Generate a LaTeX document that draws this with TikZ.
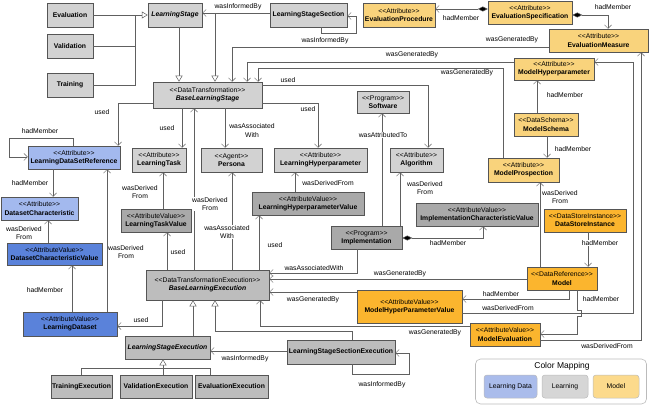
\documentclass[tikz,border=0pt]{standalone}
\usepackage{fontspec}
\setmainfont{Liberation Sans}[Ligatures=TeXOff]
\usetikzlibrary{arrows.meta}
\definecolor{lgray}{HTML}{D2D2D2}
\definecolor{mgray}{HTML}{BDBDBD}
\definecolor{dgray}{HTML}{A9A9A9}
\definecolor{lblue}{HTML}{A3B9EE}
\definecolor{dblue}{HTML}{5A82DA}
\definecolor{lorange}{HTML}{F9D37C}
\definecolor{dorange}{HTML}{FBB52E}
\definecolor{bordc}{HTML}{555555}
\definecolor{linec}{HTML}{606060}
\definecolor{legb}{HTML}{BBBBBB}
\definecolor{legblue}{HTML}{AABCEB}
\definecolor{leggray}{HTML}{D6D6D6}
\definecolor{legorange}{HTML}{FCDA8C}
\newcommand{\fsz}{\fontsize{6.8}{8.2}\selectfont}
\newcommand{\stx}[1]{<\kern0pt<#1>\kern0pt>}
\begin{document}
\begin{tikzpicture}[x=1pt,y=-1pt,
  box/.style={draw=bordc, line width=0.5pt, inner sep=0pt, align=center, font=\fsz},
  sz/.style 2 args={minimum width=#1pt, minimum height=#2pt},
  lg/.style={box, fill=lgray},
  mg/.style={box, fill=mgray},
  dg/.style={box, fill=dgray},
  lb/.style={box, fill=lblue},
  db/.style={box, fill=dblue},
  lo/.style={box, fill=lorange},
  do/.style={box, fill=dorange},
  conn/.style={draw=linec, line width=0.5pt},
  asc/.style={conn, -{Straight Barb[length=3.5pt,width=7pt]}},
  gen/.style={conn, -{Triangle[open,length=6pt,width=7pt,fill=white]}},
  comp/.style={conn, {Diamond[length=10pt,width=5pt,fill=black]}-{Straight Barb[length=3.5pt,width=7pt]}},
  lbl/.style={font=\fsz, fill=white, inner sep=0.5pt, align=center}
]
\fill[white] (0,0) rectangle (650,406);
\useasboundingbox (0,0) rectangle (650,406);

% ---------- nodes ----------
\node[lg,sz={46}{24}] (eval) at (70,15) {\textbf{Evaluation}};
\node[lg,sz={46}{24}] (valid) at (70,46) {\textbf{Validation}};
\node[lg,sz={46}{24}] (train) at (70,85) {\textbf{Training}};
\node[lg,sz={54}{24}] (ls) at (175,15) {\textbf{\textit{LearningStage}}};
\node[lg,sz={77}{24}] (lss) at (308.5,15) {\textbf{LearningStageSection}};
\node[lo,sz={72}{24}] (evproc) at (399,15) {\stx{Attribute}\\\textbf{EvaluationProcedure}};
\node[lo,sz={84}{23}] (evspec) at (530,12.5) {\stx{Attribute}\\\textbf{EvaluationSpecification}};
\node[lo,sz={99}{23}] (evmeas) at (598.5,40.5) {\stx{Attribute}\\\textbf{EvaluationMeasure}};
\node[lo,sz={80}{22}] (mhp) at (554,69) {\stx{Attribute}\\\textbf{ModelHyperparameter}};
\node[lo,sz={64}{23}] (mschema) at (546,124.5) {\stx{DataSchema}\\\textbf{ModelSchema}};
\node[lo,sz={71}{24}] (mprosp) at (523.5,170) {\stx{Attribute}\\\textbf{ModelProspection}};
\node[do,sz={82}{23}] (dsi) at (585,220.5) {\stx{DataStoreInstance}\\\textbf{DataStoreInstance}};
\node[do,sz={70}{23}] (model) at (562,278.5) {\stx{DataReference}\\\textbf{Model}};
\node[do,sz={105}{33}] (mhpv) at (409.5,306.5) {\stx{AttributeValue}\\\textbf{ModelHyperParameterValue}};
\node[do,sz={70}{23}] (meval) at (505,334.5) {\stx{AttributeValue}\\\textbf{ModelEvaluation}};

\node[lg,sz={109}{26}] (bls) at (207.5,95) {\stx{DataTransformation}\\\textbf{\textit{BaseLearningStage}}};
\node[lg,sz={52}{22}] (software) at (383,102) {\stx{Program}\\\textbf{Software}};
\node[lb,sz={92}{23}] (ldsr) at (74,157.5) {\stx{Attribute}\\\textbf{LearningDataSetReference}};
\node[lg,sz={54}{24}] (ltask) at (159,160) {\stx{Attribute}\\\textbf{LearningTask}};
\node[lg,sz={61}{24}] (persona) at (231.5,160) {\stx{Agent}\\\textbf{Persona}};
\node[lg,sz={93}{24}] (lhp) at (320.5,160) {\stx{Attribute}\\\textbf{LearningHyperparameter}};
\node[lg,sz={53}{24}] (algo) at (416.5,160) {\stx{Attribute}\\\textbf{Algorithm}};
\node[lb,sz={77}{23}] (dchar) at (39.5,208.5) {\stx{Attribute}\\\textbf{DatasetCharacteristic}};
\node[dg,sz={70}{23}] (ltv) at (156,220.5) {\stx{AttributeValue}\\\textbf{LearningTaskValue}};
\node[dg,sz={112}{23}] (lhpv) at (308,203.5) {\stx{AttributeValue}\\\textbf{LearningHyperparameterValue}};
\node[dg,sz={122}{23}] (icv) at (477,214.5) {\stx{AttributeValue}\\\textbf{ImplementationCharacteristicValue}};
\node[db,sz={95}{22}] (dcv) at (54.5,254) {\stx{AttributeValue}\\\textbf{DatasetCharacteristicValue}};
\node[dg,sz={71}{23}] (impl) at (366.5,237.5) {\stx{Program}\\\textbf{Implementation}};
\node[mg,sz={123}{30}] (ble) at (207.5,285) {\stx{DataTransformationExecution}\\\textbf{\textit{BaseLearningExecution}}};
\node[db,sz={94}{24}] (ld) at (70,324) {\stx{AttributeValue}\\\textbf{LearningDataset}};
\node[mg,sz={85}{23}] (lse) at (167.5,347.5) {\textbf{\textit{LearningStageExecution}}};
\node[mg,sz={108}{24}] (lsse) at (341,352) {\textbf{LearningStageSectionExecution}};
\node[mg,sz={61}{23}] (te) at (81.5,386.5) {\textbf{TrainingExecution}};
\node[mg,sz={72}{23}] (ve) at (156,386.5) {\textbf{ValidationExecution}};
\node[mg,sz={73}{23}] (ee) at (231.5,386.5) {\textbf{EvaluationExecution}};

% ---------- legend ----------
\node[draw=legb, line width=0.6pt, rounded corners=5pt, fill=white, sz={171}{45}] (legend) at (561,381.5) {};
\node[font=\fontsize{8.5}{10}\selectfont, inner sep=0pt] (legt) at (562,366) {Color Mapping};
\node[box, draw=legb, fill=legblue, rounded corners=3pt, sz={53}{23}] (leg1) at (510.5,386.5) {Learning Data};
\node[box, draw=legb, fill=leggray, rounded corners=3pt, sz={46}{23}] (leg2) at (565,386.5) {Learning};
\node[box, draw=legb, fill=legorange, rounded corners=3pt, sz={46}{23}] (leg3) at (616,386.5) {Model};

% ---------- generalizations ----------
\draw[gen] (eval.east) -- (ls.west);
\draw[conn] (valid.east) -| (ls.west -| 135,0);
\draw[conn] (train.east) -| (ls.west -| 135,0);
\draw[gen] (ls.south -| 179,0) -- (bls.north -| 179,0);
\draw[gen] (lss.west |- 0,13) -- (215,13) -- (bls.north -| 215,0);
\draw[gen] (lse.north -| 193,0) -- (ble.south -| 193,0);
\draw[gen] (lsse.north -| 352,0) |- (215,331) -- (ble.south -| 215,0);
\draw[gen] (te.north) |- (163,368) -- (lse.south -| 163,0);
\draw[conn] (ve.north -| 163,0) -- (163,368);
\draw[conn] (ee.north -| 210,0) |- (163,368);

% ---------- associations ----------
\draw[asc] (lss.west |- 0,13) -- (ls.east |- 0,13);
\node[lbl] (l1) at (238,7) {wasInformedBy};
\draw[asc] (lss.south -| 321,0) -- (321,33) -| (356,16) -- (lss.east |- 0,16);
\node[lbl] (l2) at (325,41) {wasInformedBy};
\draw[comp] (evspec.west |- 0,9) -- (evproc.east |- 0,9);
\node[lbl] (l3) at (461,18) {hadMember};
\draw[comp] (evspec.east |- 0,15) -| (evmeas.north -| 608,0);
\node[lbl] (l4) at (613,7) {hadMember};
\draw[asc] (evmeas.west |- 0,47) -| (bls.north -| 232,0);
\node[lbl] (l5) at (512,40) {wasGeneratedBy};
\draw[asc] (mhp.west |- 0,62) -| (bls.north -| 247,0);
\node[lbl] (l6) at (412,55) {wasGeneratedBy};
\draw[asc] (mprosp.north -| 503,0) |- (258,68) -- (bls.north -| 258,0);
\node[lbl] (l7) at (467,73) {wasGeneratedBy};
\draw[asc] (bls.east |- 0,85) -| (algo.north -| 428,0);
\node[lbl] (l8) at (288,80) {used};
\draw[asc] (bls.east |- 0,103) -| (lhp.north -| 318,0);
\node[lbl] (l9) at (308,109) {used};
\draw[asc] (bls.west |- 0,103) -| (ldsr.north -| 118,0);
\node[lbl] (l10) at (102,112) {used};
\draw[asc] (bls.south -| 182,0) -- (ltask.north -| 182,0);
\node[lbl] (l11) at (167,128) {used};
\draw[asc] (bls.south -| 225,0) -- (persona.north -| 225,0);
\node[lbl] (l12) at (252,130.5) {wasAssociated\\With};
\draw[asc] (impl.north -| 382,0) -- (software.south -| 382,0);
\node[lbl] (l13) at (383,135) {wasAttributedTo};
\draw[asc] (impl.north -| 400,0) -- (algo.south -| 400,0);
\node[lbl] (l14) at (425,188) {wasDerived\\From};
\draw[comp] (impl.east |- 0,238) -| (icv.south -| 483,0);
\node[lbl] (l15) at (448,243) {hadMember};
\draw[asc] (mschema.north -| 537,0) -- (mhp.south -| 537,0);
\node[lbl] (l16) at (565,95) {hadMember};
\draw[asc] (mschema.south -| 547,0) -- (mprosp.north -| 547,0);
\node[lbl] (l17) at (573,149) {hadMember};
\draw[asc] (model.north -| 540,0) -- (mprosp.south -| 540,0);
\node[lbl] (l18) at (560,197) {wasDerived\\From};
\draw[asc] (dsi.south -| 588,0) -- (model.north -| 588,0);
\node[lbl] (l19) at (600,243) {hadMember};
\draw[asc] (model.south -| 569,0) |- (mhpv.east |- 0,299);
\node[lbl] (l20) at (501,294) {hadMember};
\draw[asc] (mhpv.east |- 0,313) -| (633,62) -- (mhp.east |- 0,62);
\node[lbl] (l22) at (508,308) {wasDerivedFrom};
\draw[asc] (model.south -| 577,0) -- (577,310) -- (581,310) -- (581,316) -- (577,316) |- (meval.east |- 0,334);
\node[lbl] (l21) at (601,299) {hadMember};
\draw[asc] (meval.east |- 0,340) -| (evmeas.south -| 641,0);
\node[lbl] (l23) at (607,346) {wasDerivedFrom};
\draw[asc] (impl.south -| 357,0) |- (ble.east |- 0,273);
\node[lbl] (l24) at (314,268) {wasAssociatedWith};
\draw[asc] (model.west |- 0,279) -- (ble.east |- 0,279);
\node[lbl] (l25) at (400,274) {wasGeneratedBy};
\draw[asc] (mhpv.west |- 0,292) -- (ble.east |- 0,292);
\node[lbl] (l26) at (313,300) {wasGeneratedBy};
\draw[asc] (meval.west |- 0,326) -| (ble.south -| 260,0);
\node[lbl] (l27) at (435,333) {wasGeneratedBy};
\draw[asc] (ble.north -| 167,0) -- (ltv.south -| 167,0);
\node[lbl] (l28) at (178,252) {used};
\draw[asc] (ble.north -| 194,0) -- (bls.south -| 194,0);
\node[lbl] (l29) at (210,204) {wasDerived\\From};
\draw[asc] (ble.north -| 232,0) -- (persona.south -| 232,0);
\node[lbl] (l30) at (227,232) {wasAssociated\\With};
\draw[asc] (ble.north -| 259,0) -- (lhpv.south -| 259,0);
\node[lbl] (l31) at (275,245) {used};
\draw[asc] (lhpv.north -| 295,0) -- (lhp.south -| 295,0);
\node[lbl] (l32) at (328,183) {wasDerivedFrom};
\draw[asc] (ltv.north -| 163,0) -- (ltask.south -| 163,0);
\node[lbl] (l33) at (140,192) {wasDerived\\From};
\draw[asc] (ble.south -| 162,0) |- (ld.east |- 0,326);
\node[lbl] (l34) at (141,320) {used};
\draw[asc] (ld.north -| 72,0) -- (dcv.south -| 72,0);
\node[lbl] (l35) at (45,290) {hadMember};
\draw[asc] (ld.north -| 107,0) -- (ldsr.south -| 107,0);
\node[lbl] (l36) at (126,252) {wasDerived\\From};
\draw[asc] (dcv.north -| 48,0) -- (dchar.south -| 48,0);
\node[lbl] (l37) at (24,233) {wasDerived\\From};
\draw[asc] (ldsr.south -| 53,0) -- (dchar.north -| 53,0);
\node[lbl] (l38) at (30,183) {hadMember};
\draw[asc] (ldsr.north -| 73,0) |- (9,138) |- (ldsr.west |- 0,157);
\node[lbl] (l39) at (40,131) {hadMember};
\draw[asc] (lsse.west |- 0,351) -- (lse.east |- 0,351);
\node[lbl] (l40) at (245,359) {wasInformedBy};
\draw[asc] (lsse.south -| 352,0) -- (352,374) -| (409,353) -- (lsse.east |- 0,353);
\node[lbl] (l41) at (382,385) {wasInformedBy};
\end{tikzpicture}
\end{document}
